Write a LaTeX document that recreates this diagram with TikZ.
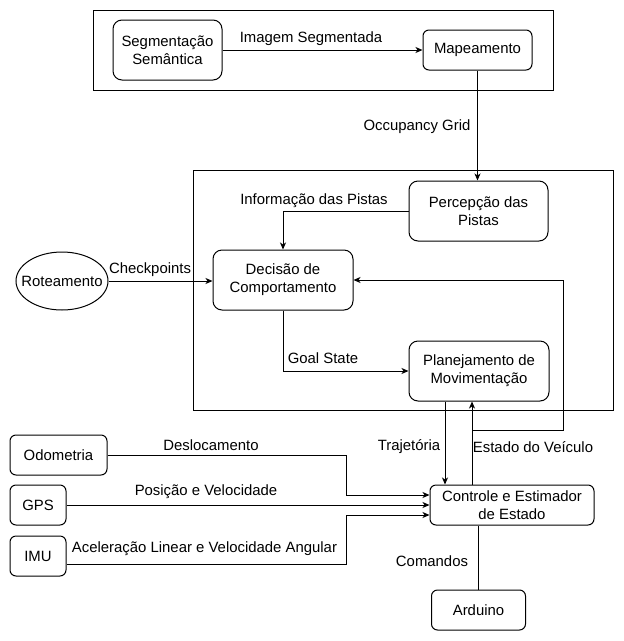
\documentclass[tikz,border=0pt]{standalone}
\usepackage{fontspec}
\setmainfont{Liberation Sans}
\usetikzlibrary{arrows.meta,shapes.geometric}
\begin{document}
\begin{tikzpicture}[x=1pt,y=-1pt,
  every node/.style={font=\fontsize{14.9}{18}\selectfont},
  box/.style={draw,line width=1pt,rectangle,rounded corners=#1,align=center,inner sep=0pt},
  box/.default=6pt,
  frame/.style={draw,line width=1pt},
  arr/.style={line width=1pt,-{Stealth[length=7pt,width=6pt,inset=2pt]}},
  ln/.style={line width=1pt},
  lbl/.style={inner sep=1pt}]
\useasboundingbox (0,0) rectangle (624,641);
% frames
\draw[frame] (93,10) rectangle (553,90);
\draw[frame] (193,170) rectangle (613,410);
% nodes
\node[box=9pt,minimum width=109pt,minimum height=60pt] (seg) at (167.5,50) {Segmentação\\Semântica};
\node[box,minimum width=109pt,minimum height=40pt] (map) at (477.5,50) {Mapeamento};
\node[box=9pt,minimum width=139pt,minimum height=60pt] (perc) at (478.5,211) {Percepção das\\Pistas};
\node[box=9pt,minimum width=140pt,minimum height=60pt] (dec) at (283,280) {Decisão de\\Comportamento};
\node[box=9pt,minimum width=140pt,minimum height=60pt] (plan) at (479,371) {Planejamento de\\Movimentação};
\node[draw,line width=1pt,ellipse,minimum width=92pt,minimum height=58pt,inner sep=0pt,
      label={[inner sep=0pt]center:Roteamento}] (rot) at (62,281) {};
\node[box,minimum width=164pt,minimum height=40pt] (ctrl) at (512,505) {Controle e Estimador\\de Estado};
\node[box,minimum width=97pt,minimum height=40pt] (odo) at (58.5,455) {Odometria};
\node[box,minimum width=56pt,minimum height=40pt] (gps) at (38,505) {GPS};
\node[box,minimum width=56pt,minimum height=40pt] (imu) at (38,556) {IMU};
\node[box,minimum width=94pt,minimum height=40pt] (ard) at (478.5,610) {Arduino};
% coordinates
\coordinate (ej) at (472,430);
\coordinate (er) at (563,430);
\coordinate (oj) at (346,455);
\coordinate (ij) at (346,564);
% connectors
\draw[arr] (seg.east) -- (map.west);
\draw[arr] (map.south) -- (map.south |- perc.north);
\draw[arr] (perc.west) -| (dec.north);
\draw[arr] (dec.south) |- (plan.west);
\draw[arr] (rot.east) -- (rot.east -| dec.west);
\draw[arr] ([xshift=-34pt]plan.south) -- ([xshift=-34pt]plan.south |- ctrl.north);
\draw[arr] (ej |- ctrl.north) -- (ej |- plan.south);
\draw[arr] (ej) -- (er) |- (dec.east);
\draw[arr] (odo.east) -- (oj) |- ([yshift=10pt]ctrl.west);
\draw[arr] (gps.east) -- (ctrl.west);
\draw[arr] ([yshift=-8pt]imu.east) -- (ij) |- ([yshift=-10pt]ctrl.west);
\draw[ln] (ard.north) -- (ard.north |- ctrl.south);
% labels
\node[lbl] (l1) at (311,39) {Imagem Segmentada};
\node[lbl] (l2) at (417,127) {Occupancy Grid};
\node[lbl] (l3) at (314,201) {Informação das Pistas};
\node[lbl] (l4) at (150,270) {Checkpoints};
\node[lbl] (l5) at (323,358) {Goal State};
\node[lbl] (l6) at (409,447) {Trajetória};
\node[lbl] (l7) at (533,447) {Estado do Veículo};
\node[lbl] (l8) at (211,445) {Deslocamento};
\node[lbl] (l9) at (206,492) {Posição e Velocidade};
\node[lbl] (l10) at (204.5,549) {Aceleração Linear e Velocidade Angular};
\node[lbl] (l11) at (432,561) {Comandos};
\end{tikzpicture}
\end{document}
